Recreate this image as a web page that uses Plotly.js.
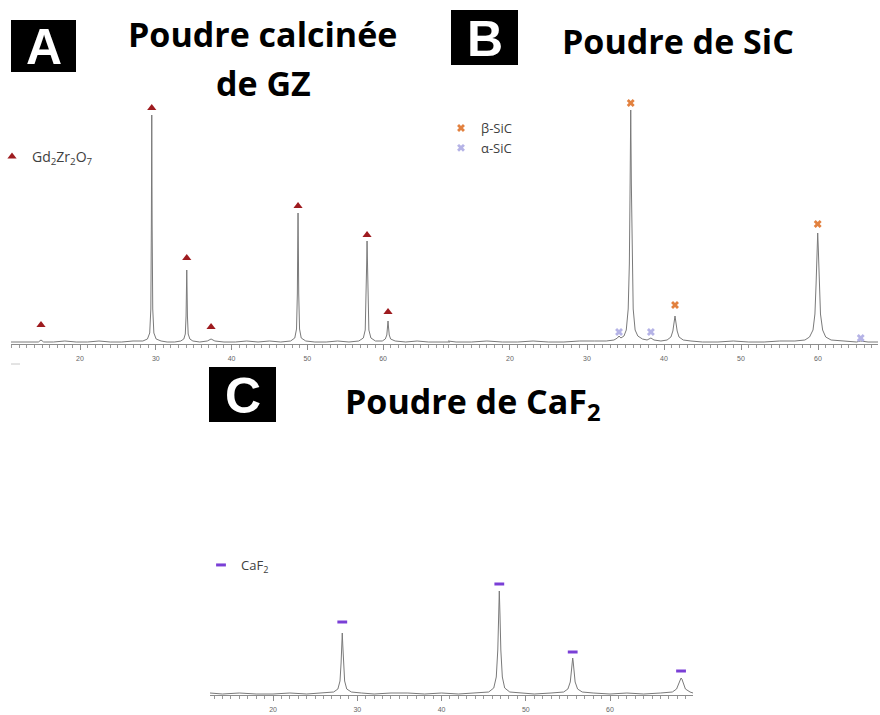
<!DOCTYPE html>
<html>
<head>
<meta charset="utf-8">
<script src="https://cdn.plot.ly/plotly-3.0.1.min.js"></script>
<style>html,body{margin:0;padding:0;background:#fff;}#chart{width:880px;height:715px;}</style>
</head>
<body>
<div id="chart"></div>
<script>
// ---------- Data (2θ in degrees, intensity in arbitrary units) ----------
// Panel A : calcined GZ powder
const gzTheta = [10.89,12.0,13.5,14.5,14.85,15.2,16.5,18.0,19.5,21.0,22.5,24.0,25.5,27.0,28.3,28.9,29.2,29.35,29.42,29.47,29.52,29.6,29.75,30.05,30.7,31.5,32.5,33.3,33.7,33.9,34.0,34.05,34.09,34.13,34.18,34.28,34.5,34.9,35.8,36.8,37.3,37.8,39.0,40.5,42.0,43.5,45.0,46.5,47.8,48.35,48.58,48.69,48.74,48.78,48.82,48.87,48.98,49.2,49.8,51.0,52.5,54.0,55.5,56.8,57.4,57.65,57.78,57.84,57.89,57.94,58.0,58.13,58.4,59.0,59.9,60.3,60.5,60.6,60.66,60.72,60.82,61.0,61.6,63.0,64.5,66.0,67.5,68.84];
const gzInt   = [2,2,2,2,4,2,2,3,2,2,3,2,2,3,3,5,11,35,120,229,120,35,11,5,3,2,2,3,5,10,28,55,74,55,28,10,5,3,2,3,5,3,2,2,3,2,3,2,3,6,15,50,100,131,100,50,15,6,3,2,2,3,2,3,6,14,45,80,103,80,45,14,6,3,3,5,9,17,23,17,9,5,3,2,3,2,2,2];
const gzPeakTheta = [14.85,29.47,34.09,37.3,48.78,57.89,60.66];
const gzPeakMark  = [19,236,86,17,138,109,32];

// Panel B : SiC powder
const sicTheta = [11.95,13.0,15.0,17.0,19.0,21.0,23.0,25.0,27.0,29.0,31.0,32.5,33.5,33.95,34.16,34.4,34.8,35.1,35.35,35.5,35.6,35.68,35.76,35.86,36.0,36.25,36.6,37.2,37.8,38.3,38.7,39.6,40.4,40.9,41.15,41.3,41.43,41.56,41.71,41.95,42.5,43.5,45.0,47.0,49.0,51.0,53.0,55.0,57.0,58.3,58.9,59.35,59.6,59.75,59.88,59.96,60.04,60.17,60.32,60.6,61.0,61.7,63.0,65.0,65.55,66.5,67.79];
const sicInt   = [3,2,2,3,2,2,3,2,2,3,3,3,4,6,8,6,8,14,35,80,160,234,160,80,35,14,8,5,4,6,4,3,4,7,13,21,28,21,13,7,4,3,2,2,3,2,2,3,3,4,7,14,30,60,95,111,95,60,30,14,7,4,3,2,3,2,2];
const betaTheta = [35.68,41.43,59.96];
const betaMark  = [241,39,120];
const alphaTheta = [34.16,38.3,65.55];
const alphaMark  = [12,12,6];

// Panel C : CaF2 powder
const cafTheta = [12.52,14.0,16.0,18.0,20.0,22.0,24.0,26.0,27.2,27.7,27.95,28.08,28.16,28.22,28.28,28.36,28.5,28.75,29.3,30.5,32.0,34.0,36.0,38.0,40.0,42.0,44.0,45.6,46.2,46.5,46.68,46.78,46.86,46.94,47.04,47.22,47.5,48.1,49.5,51.0,53.0,54.5,55.0,55.28,55.43,55.52,55.57,55.62,55.72,55.86,56.15,56.7,58.0,60.0,62.0,64.0,66.0,67.4,67.9,68.15,68.33,68.43,68.53,68.7,68.95,69.5,69.85];
const cafInt   = [2,1,2,1,1,2,1,2,3,6,14,32,50,62,50,32,14,6,3,2,1,2,2,1,2,1,2,3,7,18,45,80,104,80,45,18,7,3,2,1,2,3,6,13,25,34,37,34,25,13,6,3,2,1,2,1,2,3,6,11,16,17,16,11,6,3,2];
const cafPeakTheta = [28.22,46.86,55.57,68.43];
const cafPeakMark  = [73,111,43,24];

const tickVals = [20,30,40,50,60];
const tickText = ['20','30','40','50','60'];

// ---------- Layout helpers (pixel -> paper) ----------
const W = 880, H = 715;
const px = v => v / W;
const py = v => 1 - v / H;

const lineCol = '#7a7a7a';
const spec = (x, y, xa, ya) => ({x, y, xaxis: xa, yaxis: ya, type: 'scatter', mode: 'lines',
  line: {color: lineCol, width: 1}, showlegend: false, hoverinfo: 'skip'});

const traces = [
  spec(gzTheta, gzInt, 'x', 'y'),
  spec(sicTheta, sicInt, 'x2', 'y2'),
  spec(cafTheta, cafInt, 'x3', 'y3'),
  {x: gzPeakTheta, y: gzPeakMark, xaxis: 'x', yaxis: 'y', type: 'scatter', mode: 'markers',
   name: 'Gd<sub>2</sub>Zr<sub>2</sub>O<sub>7</sub>', legend: 'legend',
   marker: {symbol: 'triangle-up', size: 8, color: '#9e1b1f'}},
  {x: betaTheta, y: betaMark, xaxis: 'x2', yaxis: 'y2', type: 'scatter', mode: 'markers',
   name: 'β-SiC', legend: 'legend2',
   marker: {symbol: 'x', size: 7, color: '#e2813f'}},
  {x: alphaTheta, y: alphaMark, xaxis: 'x2', yaxis: 'y2', type: 'scatter', mode: 'markers',
   name: 'α-SiC', legend: 'legend2',
   marker: {symbol: 'x', size: 7, color: '#b5b3e6'}},
  {x: cafPeakTheta, y: cafPeakMark, xaxis: 'x3', yaxis: 'y3', type: 'scatter', mode: 'markers',
   name: 'CaF<sub>2</sub>', legend: 'legend3',
   marker: {symbol: 'line-ew', size: 7, color: '#7a3fd6', line: {color: '#7a3fd6', width: 3}}}
];

const xBase = {
  showgrid: false, zeroline: false, showline: true, linecolor: '#8c8c8c', linewidth: 1,
  ticks: 'outside', ticklen: 5, tickcolor: '#8c8c8c', tickwidth: 1,
  tickmode: 'array', tickvals: tickVals, ticktext: tickText,
  minor: {dtick: 1, tick0: 0, ticks: 'outside', ticklen: 3, tickcolor: '#9a9a9a', tickwidth: 1},
  tickfont: {family: 'Liberation Sans', size: 7, color: '#666'},
  ticklabelstandoff: 3, fixedrange: true, automargin: false
};
const yBase = {visible: false, fixedrange: true, automargin: false};

const titleFont = {family: 'Open Sans', size: 34, color: '#000', weight: 'bold'};
const letterFont = {family: 'Liberation Sans', size: 50, color: '#fff', weight: 'bold'};
const legFont = {family: 'Open Sans', size: 13, color: '#404040'};

const layout = {
  width: W, height: H, margin: {l: 0, r: 0, t: 0, b: 0, autoexpand: false},
  paper_bgcolor: '#fff', plot_bgcolor: 'rgba(0,0,0,0)',
  xaxis: Object.assign({}, xBase, {domain: [px(11), px(450)], range: [10.89, 68.84], anchor: 'y'}),
  yaxis: Object.assign({}, yBase, {domain: [py(344), py(94)], range: [0, 250], anchor: 'x'}),
  xaxis2: Object.assign({}, xBase, {domain: [px(448), px(878)], range: [11.95, 67.79], anchor: 'y2'}),
  yaxis2: Object.assign({}, yBase, {domain: [py(344), py(94)], range: [0, 250], anchor: 'x2'}),
  xaxis3: Object.assign({}, xBase, {domain: [px(210), px(693)], range: [12.52, 69.85], anchor: 'y3'}),
  yaxis3: Object.assign({}, yBase, {domain: [py(695), py(545)], range: [0, 150], anchor: 'x3'}),
  legend: {x: 0, y: py(141), xanchor: 'left', yanchor: 'top', bgcolor: 'rgba(0,0,0,0)',
           font: Object.assign({}, legFont, {size: 14}), itemwidth: 30, indentation: -8},
  legend2: {x: px(445), y: py(113), xanchor: 'left', yanchor: 'top', bgcolor: 'rgba(0,0,0,0)',
            font: legFont, itemwidth: 30, tracegroupgap: 0, indentation: -4},
  legend3: {x: px(205), y: py(550), xanchor: 'left', yanchor: 'top', bgcolor: 'rgba(0,0,0,0)',
            font: legFont, itemwidth: 30, indentation: -4},
  shapes: [
    {type: 'rect', xref: 'paper', yref: 'paper', x0: px(11), x1: px(76), y0: py(72), y1: py(20),
     fillcolor: '#000', line: {width: 0}},
    {type: 'rect', xref: 'paper', yref: 'paper', x0: px(451), x1: px(518), y0: py(65), y1: py(10),
     fillcolor: '#000', line: {width: 0}},
    {type: 'rect', xref: 'paper', yref: 'paper', x0: px(209), x1: px(276), y0: py(422), y1: py(367),
     fillcolor: '#000', line: {width: 0}},
    {type: 'line', xref: 'paper', yref: 'paper', x0: px(11), x1: px(20), y0: py(364), y1: py(364),
     line: {color: '#c8c8c8', width: 1}}
  ],
  annotations: [
    {text: 'A', xref: 'paper', yref: 'paper', x: px(43.5), y: py(47), xanchor: 'center', yanchor: 'middle',
     showarrow: false, font: letterFont},
    {text: 'B', xref: 'paper', yref: 'paper', x: px(484.5), y: py(38.5), xanchor: 'center', yanchor: 'middle',
     showarrow: false, font: letterFont},
    {text: 'C', xref: 'paper', yref: 'paper', x: px(242.5), y: py(395.5), xanchor: 'center', yanchor: 'middle',
     showarrow: false, font: letterFont},
    {text: 'Poudre calcinée', xref: 'paper', yref: 'paper', x: px(262.5), y: py(34), xanchor: 'center', yanchor: 'middle',
     showarrow: false, font: titleFont},
    {text: 'de GZ', xref: 'paper', yref: 'paper', x: px(263), y: py(83), xanchor: 'center', yanchor: 'middle',
     showarrow: false, font: titleFont},
    {text: 'Poudre de SiC', xref: 'paper', yref: 'paper', x: px(677.5), y: py(41), xanchor: 'center', yanchor: 'middle',
     showarrow: false, font: titleFont},
    {text: 'Poudre de CaF<sub>2</sub>', xref: 'paper', yref: 'paper', x: px(473), y: py(403), xanchor: 'center', yanchor: 'middle',
     showarrow: false, font: titleFont}
  ]
};

Plotly.newPlot('chart', traces, layout, {displayModeBar: false, staticPlot: true});
</script>
</body>
</html>
